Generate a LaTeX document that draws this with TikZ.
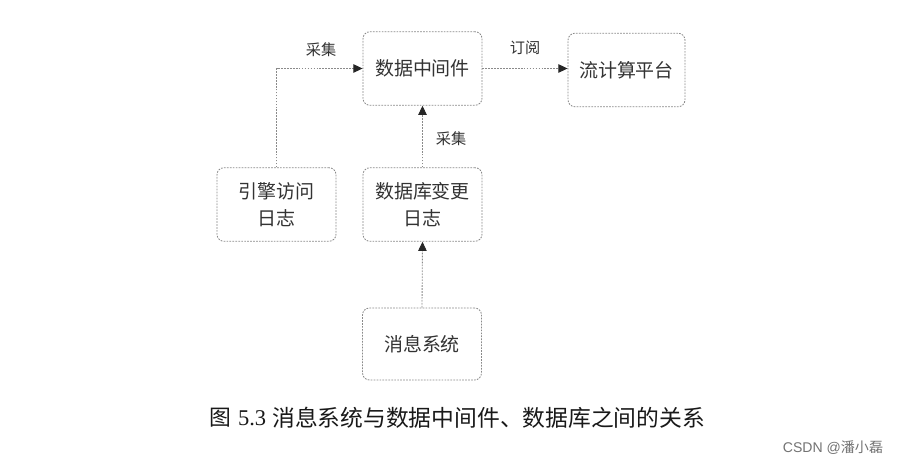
\documentclass[tikz,border=0pt]{standalone}
\usepackage{fontspec}
\setmainfont{Liberation Sans}
\newfontfamily\cjk{Noto Sans CJK SC}
\newfontfamily\serifnum{Liberation Serif}
\usetikzlibrary{arrows.meta,positioning}
\definecolor{linegray}{HTML}{8A8A8A}
\definecolor{textgray}{HTML}{333333}

\begin{document}
\begin{tikzpicture}[x=0.025cm,y=-0.025cm,
        box/.style={draw=linegray,dash pattern=on 1.2pt off 0.9pt,line width=0.6pt,
            rounded corners=5pt,minimum width=2.975cm,minimum height=1.84cm,
            align=center,text=textgray,font=\cjk\fontsize{13.5}{19}\selectfont},
        link/.style={draw=linegray,dash pattern=on 1.2pt off 0.9pt,line width=0.6pt,
            -{Triangle[width=6pt,length=6.5pt,color=black!85]}},
        tag/.style={text=textgray,font=\cjk\fontsize{10.8}{13}\selectfont}]
    \useasboundingbox (0,0) rectangle (903,465);
    \fill[white] (0,0) rectangle (903,465);
    % boxes
    \node[box] (mid) at (422.5,68.5) {数据中间件};
    \node[box,minimum width=2.925cm] (stream) at (626.5,70) {流计算平台};
    \node[box] (engine) at (276.5,204.5) {引擎访问\\日志};
    \node[box] (dblog) at (422.5,204.5) {数据库变更\\日志};
    \node[box,minimum height=1.8cm] (msg) at (422,344) {消息系统};
    % connectors
    \draw[link] (engine.north) |- (mid.west);
    \draw[link] (mid.east) -- (stream.west |- mid.east);
    \draw[link] (dblog.north) -- (mid.south);
    \draw[link] (msg.north) -- (dblog.south);
    \node[tag] (collect1) at (321,50) {采集};
    \node[tag] (subscribe) at (525,48) {订阅};
    \node[tag] (collect2) at (451,139) {采集};
    % caption
    \node[anchor=west,inner sep=0pt,text=black!90] (figno) at (209,418)
        {\cjk\fontsize{15.5}{18}\selectfont 图\hspace{5pt}\serifnum\fontsize{16}{18}\selectfont 5.3};
    \node[anchor=west,inner sep=0pt,text=black!90] (figcap) at (272,418)
        {\cjk\fontsize{16.2}{18}\selectfont 消息系统与数据中间件、数据库之间的关系};
    \node[text=black!55,font=\fontsize{10}{12}\selectfont] (mark) at (833,448)
        {CSDN @{\cjk 潘小磊}};
\end{tikzpicture}
\end{document}
